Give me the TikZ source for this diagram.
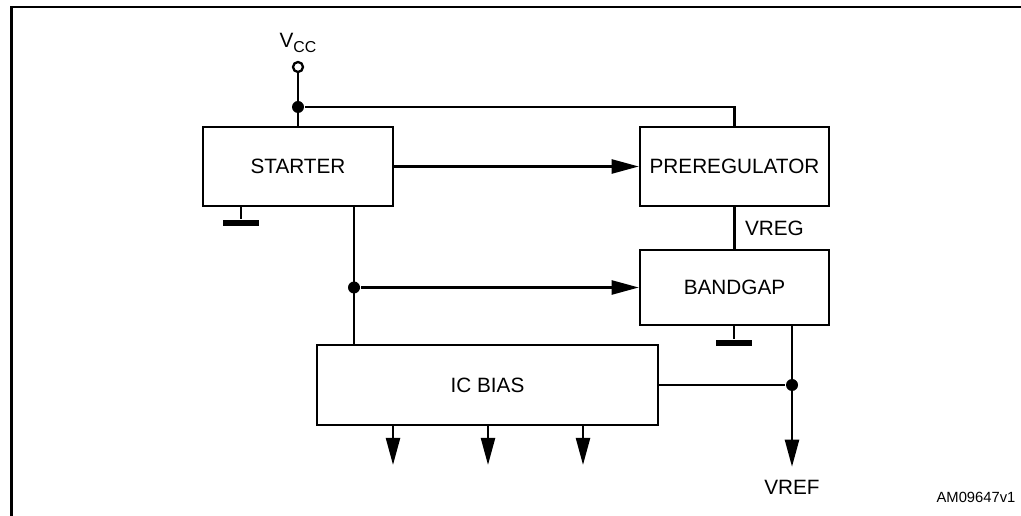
\documentclass[tikz,border=0pt]{standalone}
\usepackage{fontspec}
\setmainfont{Liberation Sans}
\usetikzlibrary{arrows.meta,positioning}

\begin{document}
\begin{tikzpicture}[
    x=0.02cm, y=-0.02cm,
    >={Triangle[length=15.5pt,width=8pt]},
    line width=1.4pt,
    every node/.style={font=\fontsize{11.8}{14}\selectfont},
    block/.style={rectangle, draw, line width=1.4pt, inner sep=0pt},
    dot/.style={circle, fill, inner sep=0pt, minimum size=0.24cm},
    pin/.style={circle, draw, fill=white, line width=1.3pt, inner sep=0pt, minimum size=0.2cm},
    gnd/.style={rectangle, fill, inner sep=0pt, minimum width=0.72cm, minimum height=0.13cm},
    conn/.style={->}
  ]

    \useasboundingbox (0,0) rectangle (1021,516);

    % 枠(左と上だけ見える)
    \draw[line width=1.2pt] (11.5,516) -- (11.5,7) -- (1021,7);

    %=== ブロック ===%
    \node[block, minimum width=3.8cm, minimum height=1.58cm] (starter) at (298,166.5) {STARTER};
    \node[block, minimum width=3.78cm, minimum height=1.58cm] (prereg) at (734.5,166.5) {PREREGULATOR};
    \node[block, minimum width=3.78cm, minimum height=1.5cm] (bandgap) at (734.5,287.5) {BANDGAP};
    \node[block, minimum width=6.82cm, minimum height=1.6cm] (ibias) at (487.5,385) {IC BIAS};

    %=== 電源 ===%
    \node[pin] (vcc) at (298,67) {};
    \node (vcclabel) at (298,43) {V\raisebox{-0.45ex}{\fontsize{9}{10}\selectfont CC}};
    \node[dot] (jtop) at (298,107) {};

    %=== グランド ===%
    \node[gnd] (gnd1) at (241,223) {};
    \node[gnd] (gnd2) at (734,343) {};

    %=== 分岐点 ===%
    \node[dot] (jmid) at (354,287.5) {};
    \node[dot] (jref) at (792,385) {};

    %=== 出力 ===%
    \node (vref) at (792,487) {VREF};
    \coordinate (o1) at (393,465);
    \coordinate (o2) at (488,465);
    \coordinate (o3) at (583,465);

    %=== 配線 ===%
    \draw (vcc) -- (starter.north);
    \draw (jtop) -| (prereg.north);
    \draw[conn] (starter.east) -- (prereg.west);
    \draw (prereg.south) -- node[right=2pt] (vreg) {VREG} (bandgap.north);
    \draw (starter.south -| jmid) -- (ibias.north -| jmid);
    \draw[conn] (jmid) -- (bandgap.west);
    \draw (starter.south -| gnd1) -- (gnd1.north);
    \draw (bandgap.south -| gnd2) -- (gnd2.north);
    \draw (ibias.east) -- (jref);
    \draw[conn, shorten >=0.12cm] (bandgap.south -| jref) -- (vref.north);
    \foreach \out in {o1,o2,o3}{
      \draw[conn] (ibias.south -| \out) -- (\out);
    }

    % 図番号
    \node[font=\fontsize{8.4}{10}\selectfont] (figid) at (976,497) {AM09647v1};

\end{tikzpicture}
\end{document}
